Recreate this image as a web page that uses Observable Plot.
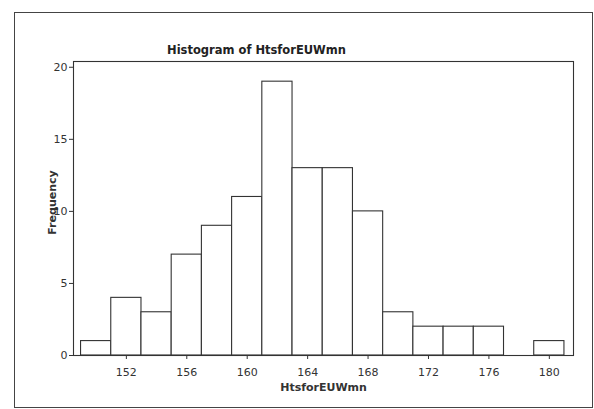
<!DOCTYPE html>
<html>
<head>
<meta charset="utf-8">
<script src="https://cdn.jsdelivr.net/npm/d3@7"></script>
<script src="https://cdn.jsdelivr.net/npm/@observablehq/plot@0.6"></script>
<style>
  body { margin: 0; background: #fff; }
  #wrap { position: relative; width: 594px; height: 409px; overflow: hidden; }
  #outer { position: absolute; left: 14px; top: 12px; width: 579px; height: 396px; box-sizing: border-box; border: 1px solid #444; pointer-events: none; }
  #wrap svg { position: absolute; left: 0; top: 0; }
</style>
</head>
<body>
<div id="wrap"><div id="outer"></div></div>
<script>
// Histogram bins (lower edge, upper edge) and frequencies
const binLow  = [149, 151, 153, 155, 157, 159, 161, 163, 165, 167, 169, 171, 173, 175, 177, 179];
const binHigh = [151, 153, 155, 157, 159, 161, 163, 165, 167, 169, 171, 173, 175, 177, 179, 181];
const counts  = [1, 4, 3, 7, 9, 11, 19, 13, 13, 10, 3, 2, 2, 2, 0, 1];
const xTicks = [152, 156, 160, 164, 168, 172, 176, 180];
const yTicks = [0, 5, 10, 15, 20];
const titleText = "Histogram of HtsforEUWmn";
const xLabel = "HtsforEUWmn";
const yLabel = "Frequency";

const bins = binLow.map((lo, i) => ({x1: lo, x2: binHigh[i], count: counts[i]})).filter(d => d.count > 0);

const ink = "#333";
const chart = Plot.plot({
  width: 594,
  height: 409,
  marginLeft: 73,
  marginRight: 21,
  marginTop: 61,
  marginBottom: 54,
  style: {fontFamily: "DejaVu Sans, sans-serif", fontSize: "11px", color: ink, background: "transparent"},
  x: {domain: [148.5, 181.6]},
  y: {domain: [0, 20.4]},
  marks: [
    Plot.rectY(bins, {x1: "x1", x2: "x2", y: "count", fill: "white", stroke: ink, strokeWidth: 1.1, inset: 0}),
    Plot.frame({stroke: ink, strokeWidth: 1.1}),
    Plot.axisX({ticks: xTicks, tickSize: 4, tickPadding: 9, label: null, stroke: ink}),
    Plot.axisY({ticks: yTicks, tickSize: 4, tickPadding: 2, label: null, stroke: ink}),
    Plot.text([xLabel], {frameAnchor: "bottom", dy: 35, fontWeight: "bold", fontSize: 11, fill: ink}),
    Plot.text([yLabel], {frameAnchor: "left", dx: -21, dy: -6, rotate: -90, textAnchor: "middle", fontWeight: "bold", fontSize: 11, fill: ink}),
    Plot.text([titleText], {frameAnchor: "top", dx: -67, dy: -16, fontWeight: "bold", fontSize: 11.5, fill: "#222"})
  ]
});
document.getElementById("wrap").prepend(chart);
</script>
</body>
</html>
